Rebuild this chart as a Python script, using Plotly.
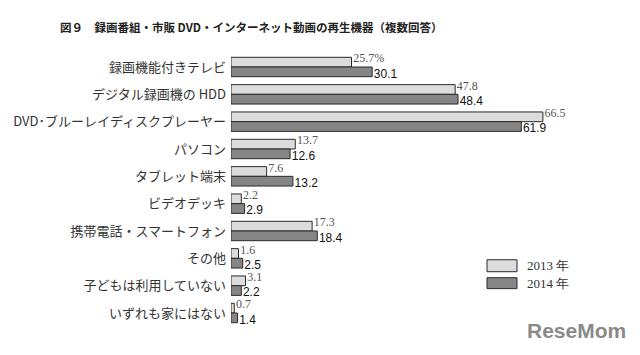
import plotly.graph_objects as go

categories = ["録画機能付きテレビ", "デジタル録画機の HDD", "DVD･ブルーレイディスクプレーヤー",
              "パソコン", "タブレット端末", "ビデオデッキ", "携帯電話・スマートフォン",
              "その他", "子どもは利用していない", "いずれも家にはない"]
series_names = ["2013 年", "2014 年"]
values_2013 = [25.7, 47.8, 66.5, 13.7, 7.6, 2.2, 17.3, 1.6, 3.1, 0.7]
values_2014 = [30.1, 48.4, 61.9, 12.6, 13.2, 2.9, 18.4, 2.5, 2.2, 1.4]
title_text = "図９　録画番組・市販 DVD・インターネット動画の再生機器（複数回答）"

text_2013 = [f"{v}" for v in values_2013]
text_2013[0] = text_2013[0] + "%"
text_2014 = [f"{v}" for v in values_2014]

fill_colors = ["#dcdcdc", "#858585"]

fig = go.Figure()
fig.add_trace(go.Bar(
    y=categories, x=values_2013, orientation="h", name=series_names[0],
    marker=dict(color=fill_colors[0], line=dict(color="#2a2a2a", width=1)),
    showlegend=False, hoverinfo="x+y",
))
fig.add_trace(go.Bar(
    y=categories, x=values_2014, orientation="h", name=series_names[1],
    marker=dict(color=fill_colors[1], line=dict(color="#2a2a2a", width=1)),
    showlegend=False, hoverinfo="x+y",
))
# value labels: 2013 above the category centre, 2014 below it
fig.add_trace(go.Scatter(
    y=categories, x=values_2013, mode="markers+text", text=text_2013, textposition="top right",
    marker=dict(size=1, color="rgba(0,0,0,0)"),
    textfont=dict(family="Liberation Serif", size=12, color="#555555"),
    showlegend=False, hoverinfo="skip", cliponaxis=False,
))
fig.add_trace(go.Scatter(
    y=categories, x=values_2014, mode="markers+text", text=text_2014, textposition="bottom right",
    marker=dict(size=1, color="rgba(0,0,0,0)"),
    textfont=dict(family="Liberation Sans", size=12, color="#111111"),
    showlegend=False, hoverinfo="skip", cliponaxis=False,
))

# custom legend (decoration)
legend_boxes = [(260, 272), (278, 289)]
H = 355
T, B, L = 49.5, 24.5, 231
PW, PH = 640 - L, H - T - B
for i, (y0, y1) in enumerate(legend_boxes):
    fig.add_shape(type="rect", xref="paper", yref="paper",
                  x0=(487 - L) / PW, x1=(517 - L) / PW,
                  y0=(H - B - y1) / PH, y1=(H - B - y0) / PH,
                  fillcolor=fill_colors[i], line=dict(color="#2a2a2a", width=1))
    fig.add_annotation(xref="paper", yref="paper",
                       x=(525 - L) / PW, y=(H - B - (y0 + y1) / 2) / PH,
                       text=series_names[i], showarrow=False, xanchor="left", yanchor="middle",
                       font=dict(family="Liberation Serif", size=13, color="#333333"))

fig.add_annotation(xref="paper", yref="paper", x=(628 - L) / PW, y=(H - B - 331) / PH,
                   text="<b>ReseMom</b>", showarrow=False, xanchor="right", yanchor="middle",
                   font=dict(family="Liberation Sans", size=21, color="#8a8a8a"))

fig.update_layout(
    width=640, height=355,
    margin=dict(l=L, r=0, t=T, b=B, autoexpand=False),
    paper_bgcolor="white", plot_bgcolor="white",
    barmode="group", bargap=0.29, bargroupgap=0,
    title=dict(text="<b>" + title_text + "</b>", x=60 / 640, xanchor="left",
               y=1 - 28 / 355, yanchor="middle",
               font=dict(family="Noto Sans CJK JP", size=11.5, color="#222222")),
    xaxis=dict(range=[0, PW / 4.69], visible=False, fixedrange=True, automargin=False),
    yaxis=dict(autorange="reversed", showgrid=False, showline=False, zeroline=False,
               ticks="", ticklabelstandoff=4, automargin=False, fixedrange=True,
               tickfont=dict(family="Noto Sans CJK JP", size=13, color="#333333")),
    font=dict(family="Noto Sans CJK JP"),
)

fig.write_html("out.html", config={"displayModeBar": False},
               post_script="document.body.style.margin='0';")
